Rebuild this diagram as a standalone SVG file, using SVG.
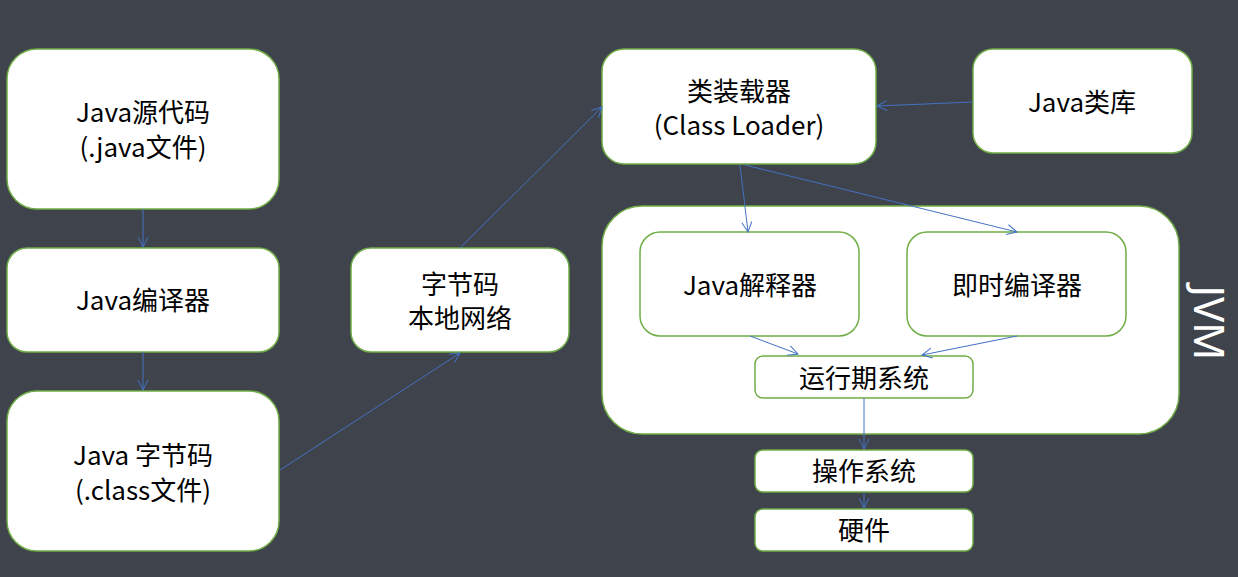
<svg xmlns="http://www.w3.org/2000/svg" width="1238" height="577" viewBox="0 0 1238 577">
<style>
.n{fill:#fff;stroke:#70ad47;stroke-width:1.5}
.t{font-family:"Noto Sans CJK SC","Noto Sans",sans-serif;font-size:26px;fill:#000;text-anchor:middle;dominant-baseline:central}
.c{stroke:#4472c4;stroke-width:1;fill:none;marker-end:url(#a)}
</style>
<defs>
<marker id="a" viewBox="0 0 12 12" refX="11" refY="6" markerWidth="12" markerHeight="12" markerUnits="userSpaceOnUse" orient="auto">
<path d="M1,1 L11,6 L1,11" fill="none" stroke="#4472c4" stroke-width="1"/>
</marker>
</defs>
<rect width="1238" height="577" fill="#3f434b"/>
<g id="src"><rect class="n" x="7" y="49" width="272" height="160" rx="30"/><text class="t" x="143" y="110">Java源代码</text><text class="t" x="143" y="145">(.java文件)</text></g>
<g id="compiler"><rect class="n" x="7" y="248" width="272" height="104" rx="20"/><text class="t" x="143" y="298">Java编译器</text></g>
<g id="bytecode"><rect class="n" x="7" y="391" width="272" height="160" rx="30"/><text class="t" x="143" y="453">Java 字节码</text><text class="t" x="143" y="488">(.class文件)</text></g>
<g id="net"><rect class="n" x="351" y="248" width="218" height="104" rx="20"/><text class="t" x="460" y="282">字节码</text><text class="t" x="460" y="316">本地网络</text></g>
<g id="loader"><rect class="n" x="602" y="49" width="274" height="115" rx="22"/><text class="t" x="739" y="89">类装载器</text><text class="t" x="739" y="123">(Class Loader)</text></g>
<g id="lib"><rect class="n" x="973" y="49" width="219" height="104" rx="20"/><text class="t" x="1082" y="100">Java类库</text></g>
<g id="jvm"><rect class="n" x="602" y="206" width="577" height="228" rx="40"/><text x="1210" y="323" font-family="Noto Sans,sans-serif" font-size="42" fill="#fff" text-anchor="middle" dominant-baseline="central" transform="rotate(90 1210 323)">JVM</text></g>
<g id="interp"><rect class="n" x="640" y="232" width="219" height="104" rx="20"/><text class="t" x="750" y="283">Java解释器</text></g>
<g id="jit"><rect class="n" x="907" y="232" width="219" height="104" rx="20"/><text class="t" x="1017" y="283">即时编译器</text></g>
<g id="runtime"><rect class="n" x="755" y="356" width="218" height="42" rx="8"/><text class="t" x="864" y="376">运行期系统</text></g>
<g id="os"><rect class="n" x="755" y="450" width="218" height="42" rx="8"/><text class="t" x="864" y="469">操作系统</text></g>
<g id="hw"><rect class="n" x="755" y="509" width="218" height="42" rx="8"/><text class="t" x="864" y="528">硬件</text></g>
<g id="connectors">
<line class="c" x1="143" y1="209" x2="143" y2="247"/>
<line class="c" x1="143" y1="352" x2="143" y2="390"/>
<line class="c" x1="280" y1="470" x2="460" y2="353"/>
<line class="c" x1="460" y1="248" x2="602" y2="107"/>
<line class="c" x1="973" y1="102" x2="877" y2="106"/>
<line class="c" x1="740" y1="165" x2="748" y2="232"/>
<line class="c" x1="745" y1="165" x2="1017" y2="232"/>
<line class="c" x1="750" y1="336" x2="798" y2="354"/>
<line class="c" x1="1017" y1="336" x2="922" y2="355"/>
<line class="c" x1="864" y1="398" x2="864" y2="449"/>
<line class="c" x1="864" y1="492" x2="864" y2="508"/>
</g>
</svg>
